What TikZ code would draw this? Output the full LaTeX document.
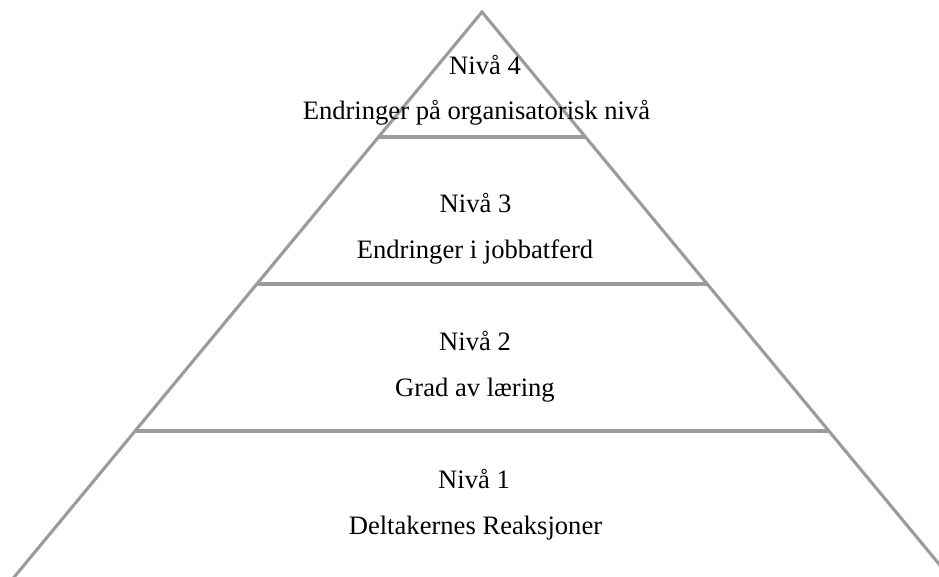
\documentclass[tikz,border=0pt]{standalone}
\usepackage{fontspec}
\setmainfont{Liberation Serif}
\definecolor{pyrgray}{RGB}{155,155,155}
\begin{document}
\begin{tikzpicture}[x=1pt,y=-1pt,
  pyrline/.style={draw=pyrgray,line width=3.1pt,line cap=butt,line join=miter},
  lbl/.style={anchor=base,inner sep=0pt,font=\fontsize{26.6}{32}\selectfont,text=black}]
\useasboundingbox (0,0) rectangle (939,576);
\begin{scope}
\clip (0,0) rectangle (939,576);
\coordinate (apex) at (482,12);
\coordinate (bl) at (13.4,578);
\coordinate (br) at (950.6,578);
\coordinate (l4a) at (378.6,137); \coordinate (l4b) at (585.4,137);
\coordinate (l3a) at (257,284);   \coordinate (l3b) at (707,284);
\coordinate (l2a) at (135.5,431); \coordinate (l2b) at (828.5,431);
\draw[pyrline] (bl) -- (apex) -- (br);
\draw[pyrline] (l4a) -- (l4b);
\draw[pyrline] (l3a) -- (l3b);
\draw[pyrline] (l2a) -- (l2b);
\end{scope}
\node[lbl] (n4) at (485,74) {Nivå 4};
\node[lbl] (t4) at (476.5,119) {Endringer på organisatorisk nivå};
\node[lbl] (n3) at (475.5,212) {Nivå 3};
\node[lbl] (t3) at (475,258) {Endringer i jobbatferd};
\node[lbl] (n2) at (475,350) {Nivå 2};
\node[lbl] (t2) at (475,396) {Grad av læring};
\node[lbl] (n1) at (474,488) {Nivå 1};
\node[lbl] (t1) at (475.5,534) {Deltakernes Reaksjoner};
\end{tikzpicture}
\end{document}
